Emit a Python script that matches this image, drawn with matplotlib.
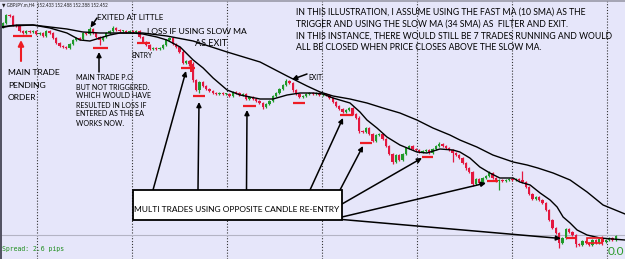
import numpy as np
import matplotlib
matplotlib.use("Agg")
import matplotlib.pyplot as plt
from matplotlib.patches import Rectangle

# ---------------- data (price levels in chart points, bar index on x) -------------
first_open = 232
closes = [
    236, 244, 243, 234, 233, 228, 226, 228, 227, 228,
    225, 226, 223, 228, 226, 221, 216, 213, 212, 211,
    215, 219, 221, 220, 226, 225, 230, 226, 222, 219,
    222, 226, 228, 231, 229, 228, 228, 227, 228, 227,
    228, 222, 217, 214, 210, 211, 210, 211, 214, 219,
    221, 215, 212, 207, 196, 198, 195, 179, 169, 177,
    173, 170, 168, 166, 165, 166, 165, 165, 163, 167,
    166, 164, 165, 160, 162, 160, 158, 156, 152, 155,
    158, 163, 166, 170, 174, 178, 176, 169, 165, 162,
    163, 165, 166, 165, 166, 164, 165, 164, 161, 157,
    153, 150, 147, 149, 151, 145, 141, 128, 127, 131,
    125, 118, 124, 125, 120, 113, 105, 97, 104, 99,
    105, 111, 113, 110, 109, 107, 108, 109, 106, 110,
    113, 115, 113, 111, 109, 106, 104, 101, 96, 91,
    87, 75, 80, 76, 81, 83, 86, 81, 78, 79,
    78, 79, 80, 79, 80, 79, 77, 72, 65, 60,
    62, 59, 56, 49, 39, 31, 26, 16, 21, 30,
    27, 24, 15, 14, 18, 16, 14, 19, 16, 20,
    17, 19, 21, 19, 23]
wick_hi = [
    1, 1, 1, 1, 1, 1, 1, 1, 1, 1, 1, 1, 1, 1, 1, 1, 1, 1, 1, 1,
    1, 1, 1, 1, 1, 1, 2, 1, 1, 1, 1, 1, 1, 2, 1, 1, 1, 1, 1, 1,
    1, 1, 1, 1, 1, 1, 1, 1, 1, 1, 1, 1, 1, 1, 2, 1, 1, 2, 1, 1,
    1, 1, 1, 1, 1, 1, 1, 1, 1, 1, 1, 1, 1, 1, 1, 1, 1, 1, 1, 1,
    1, 1, 1, 1, 1, 2, 1, 1, 1, 1, 1, 1, 1, 1, 1, 1, 1, 1, 1, 1,
    1, 1, 1, 1, 1, 1, 1, 2, 1, 1, 1, 1, 1, 1, 1, 1, 1, 1, 1, 1,
    1, 1, 1, 1, 1, 1, 1, 1, 1, 1, 1, 2, 1, 1, 1, 1, 1, 1, 1, 1,
    1, 1, 1, 1, 1, 1, 2, 1, 1, 1, 1, 1, 1, 1, 1, 1, 9, 1, 1, 1,
    1, 1, 1, 1, 1, 1, 1, 1, 1, 1, 1, 1, 1, 1, 1, 1, 1, 1, 1, 1,
    3, 1, 1, 1, 1]
wick_lo = [
    1, 1, 1, 1, 1, 1, 1, 1, 1, 1, 1, 1, 1, 1, 1, 1, 1, 1, 1, 1,
    1, 1, 1, 1, 1, 1, 1, 1, 1, 5, 1, 1, 1, 1, 1, 1, 1, 1, 1, 1,
    1, 1, 1, 1, 1, 1, 1, 1, 1, 1, 1, 1, 1, 1, 1, 1, 2, 2, 1, 3,
    1, 1, 1, 1, 1, 1, 1, 1, 1, 1, 1, 1, 1, 1, 1, 1, 1, 1, 2, 1,
    1, 1, 1, 1, 1, 1, 1, 2, 1, 1, 1, 1, 1, 1, 1, 1, 1, 1, 1, 1,
    1, 1, 1, 1, 1, 1, 1, 2, 1, 1, 1, 1, 1, 1, 1, 1, 1, 2, 1, 1,
    1, 1, 1, 1, 1, 1, 1, 1, 1, 1, 1, 1, 1, 1, 1, 9, 1, 1, 1, 2,
    1, 2, 1, 1, 1, 1, 1, 1, 1, 9, 1, 1, 1, 1, 1, 1, 1, 1, 1, 1,
    1, 1, 1, 1, 1, 1, 1, 5, 1, 1, 1, 1, 3, 1, 1, 1, 1, 1, 1, 1,
    3, 1, 1, 1, 1]

fast_x = [-0.9, 2.1, 9.0, 14.1, 19.2, 23.1, 26.1, 29.1, 32.1, 35.1, 39.0, 42.0, 46.2,
          49.2, 53.2, 57.1, 60.1, 63.1, 67.3, 71.2, 77.2, 81.1, 85.3, 89.2, 93.1, 96.1,
          99.1, 104.2, 107.2, 109.3, 112.3, 115.3, 119.2, 124.3, 127.3, 131.2, 135.1,
          137.2, 140.2, 143.2, 146.2, 149.2, 153.2, 155.2, 158.3, 161.3, 164.3, 166.4,
          168.2, 170.3, 172.4, 175.4, 179.3, 186.8]
fast_ma = [231, 233, 234, 231, 226, 219, 218, 221, 224, 226, 226, 225, 222, 219, 212,
           199, 191, 181, 169, 164, 160, 160, 164, 166, 166, 165, 161, 156, 147, 139,
           131, 122, 114, 107, 106, 110, 109, 107, 101, 92, 86, 81, 81, 77, 74, 66, 59,
           52, 42, 36, 29, 24, 21, 19]
slow_x = [-0.9, 4.2, 9.0, 14.1, 19.2, 24.0, 29.1, 34.2, 42.0, 49.2, 57.1, 67.3, 77.2,
          85.3, 91.3, 95.2, 99.1, 104.2, 109.3, 114.1, 119.2, 124.3, 129.1, 134.2,
          137.2, 142.3, 147.1, 153.2, 157.4, 160.6, 165.2, 170.3, 175.4, 180.2, 186.8]
slow_ma = [232, 234, 234, 232, 230, 227, 226, 226, 226, 223, 218, 207, 197, 183, 173,
           167, 163, 160, 156, 151, 146, 139, 131, 124, 119, 112, 104, 97, 94, 91, 86,
           79, 67, 54, 45]

separators = [10.1, 38.7, 67.2, 95.8, 124.3, 152.9, 181.5]
bid_level = 24

order_x0 = [3.0, 27.0, 40.2, 53.5, 57.1, 72.1, 87.1, 101.2, 107.2, 125.8, 145.3, 169.0]
order_x1 = [8.7, 31.5, 44.1, 57.7, 60.7, 76.0, 90.7, 105.1, 110.8, 129.1, 148.6, 172.0]
order_lvl = [223, 211, 216, 191, 163, 153, 156, 144, 116, 102, 78, 21]

header = "\u25bc GBPJPY.m,H4  152.433 152.488 152.388 152.452"
para = ["IN THIS ILLUSTRATION, I ASSUME USING THE FAST MA (10 SMA) AS THE",
        "TRIGGER AND USING THE SLOW MA (34 SMA) AS  FILTER AND EXIT.",
        "IN THIS INSTANCE, THERE WOULD STILL BE 7 TRADES RUNNING AND WOULD",
        "ALL BE CLOSED WHEN PRICE CLOSES ABOVE THE SLOW MA."]
po_note = ["MAIN TRADE P.O", "BUT NOT TRIGGERED.", "WHICH WOULD HAVE",
           "RESULTED IN LOSS IF", "ENTERED AS THE EA", "WORKS NOW."]
main_note = ["MAIN TRADE", "PENDING", "ORDER"]
box_label = "MULTI TRADES USING OPPOSITE CANDLE RE-ENTRY"

# ---------------- figure ----------------
BG = "#e6e6fa"
UP = "#1f9a2a"
DN = "#e3173f"
RED = "#ee1c24"
FONT = ["Lato", "DejaVu Sans"]

fig = plt.figure(figsize=(6.25, 2.59), dpi=100)
fig.patch.set_facecolor(BG)
ax = fig.add_axes([0, 0, 1, 1])
ax.set_facecolor(BG)
ax.set_xlim(-0.9, -0.9 + 625 / 3.33)
ax.set_ylim(0, 259)
ax.axis("off")

n = len(closes)
x = np.arange(n)
c = np.array(closes, float)
o = np.concatenate([[first_open], c[:-1]])
hi = np.maximum(o, c) + np.array(wick_hi)
lo = np.minimum(o, c) - np.array(wick_lo)
col = np.where(c >= o, UP, DN)

ax.vlines(separators, 0, 259, colors="#333333", linestyles=(0, (1, 1.6)), lw=0.8, zorder=1)
ax.axhline(bid_level, color="#b4b4c4", lw=0.8, zorder=1)

ax.vlines(x, lo, hi, colors=col, lw=0.9, zorder=3)
body = np.abs(c - o)
body = np.where(body < 1.0, 1.0, body)
ax.bar(x, body, bottom=np.minimum(o, c), width=0.7, color=col, lw=0, zorder=3)

ax.plot(fast_x, fast_ma, color="black", lw=1.0, zorder=4)
ax.plot(slow_x, slow_ma, color="black", lw=1.0, zorder=4)

ax.hlines(order_lvl, order_x0, order_x1, colors=RED, lw=1.6, zorder=5)
ax.vlines([56.6], [187], [199], colors=RED, lw=1.4, zorder=5)
ax.add_patch(Rectangle((175.5, 16), 4.3, 5, fill=False, ec=RED, lw=1.2, zorder=5))

# ---------------- overlay (screen pixels) ----------------
ov = fig.add_axes([0, 0, 1, 1], facecolor="none")
ov.set_xlim(0, 625)
ov.set_ylim(259, 0)
ov.axis("off")
ov.plot([0, 625], [0.5, 0.5], color="#9a9aa8", lw=1.2)
ov.plot([0.8, 0.8], [10, 259], color="#505060", lw=1.4)

renderer = fig.canvas.get_renderer()


def fit_text(xp, yp, s, width, size=7.0, **kw):
    kw.setdefault("family", FONT)
    kw.setdefault("color", "black")
    t = ov.text(xp, yp, s, fontsize=size, va="center", ha="left", zorder=8, **kw)
    w = t.get_window_extent(renderer).width
    t.set_fontsize(size * width / w)
    return t


def arrow(x0, y0, x1, y1, color="black", lw=1.1, ms=7):
    ov.annotate("", xy=(x1, y1), xytext=(x0, y0),
                arrowprops=dict(arrowstyle="-|>", color=color, lw=lw,
                                mutation_scale=ms, shrinkA=0, shrinkB=0),
                zorder=6)


fit_text(2, 4.5, header, 108, color="#202020")
fit_text(97, 17, "EXITED AT LITTLE", 66)
fit_text(147, 31, "LOSS IF USING SLOW MA", 100)
fit_text(195, 43, "AS EXIT", 32)
fit_text(131, 55, "ENTRY", 21)
fit_text(308, 77, "EXIT", 14)

t = fit_text(8, 72.5, main_note[0], 52)
fs = t.get_fontsize()
for s, yy in zip(main_note[1:], [85, 97.5]):
    ov.text(8, yy, s, fontsize=fs, family=FONT, va="center", ha="left", zorder=8)

t = fit_text(76, 105, po_note[3], 71)
fs = t.get_fontsize()
for s, yy in zip(po_note, [77, 87, 96, 105, 114, 123]):
    if s != po_note[3]:
        ov.text(76, yy, s, fontsize=fs, family=FONT, va="center", ha="left", zorder=8)

t = fit_text(296, 12, para[0], 290)
fs = t.get_fontsize()
for s, yy in zip(para[1:], [24, 36, 47.5]):
    ov.text(296, yy, s, fontsize=fs, family=FONT, va="center", ha="left", zorder=8)

# arrows
arrow(21, 61, 21, 40, color=RED, lw=1.5, ms=8)
arrow(97, 18, 90.5, 27.5)
arrow(99, 72, 99, 52)
arrow(307, 74, 292, 79.5)
for (x0, y0, x1, y1) in [(153, 190, 186, 71), (198, 190, 199, 102), (246.5, 190, 247, 110),
                         (310, 190, 343, 118), (340, 190, 363, 146), (342, 204, 422, 158),
                         (342, 217, 486, 183), (342, 219.5, 561, 238.5)]:
    arrow(x0, y0, x1, y1)

ov.add_patch(Rectangle((132.5, 190), 209.5, 29.5, fc="white", ec="black", lw=1.3, zorder=7))
fit_text(133.5, 209, box_label, 206)

fit_text(2, 249.5, "Spread: 2.6 pips", 63, family="DejaVu Sans Mono", color="#1f8f1f")
ov.text(624.5, 251.5, "0.0", fontsize=8.5, family=FONT, color="#2a9a2a", va="center", ha="right")

fig.savefig("out.png", dpi=100, facecolor=BG)
